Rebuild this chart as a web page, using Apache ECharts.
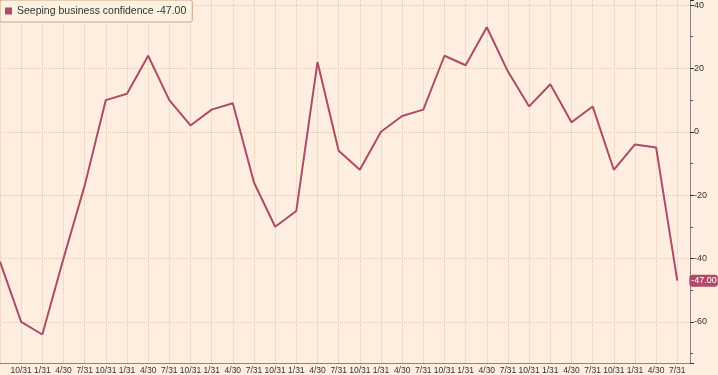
<!DOCTYPE html>
<html>
<head>
<meta charset="utf-8">
<script src="https://cdn.jsdelivr.net/npm/echarts@6/dist/echarts.min.js"></script>
<style>
  html, body { margin: 0; padding: 0; background: #fdeedf; }
  #chart { width: 718px; height: 375px; }
</style>
</head>
<body>
<div id="chart"></div>
<script>
// quarter-end labels, first point is the 7/31 just off the left edge
const xLabels = [
  '7/31', '10/31', '1/31', '4/30', '7/31', '10/31', '1/31', '4/30', '7/31',
  '10/31', '1/31', '4/30', '7/31', '10/31', '1/31', '4/30', '7/31',
  '10/31', '1/31', '4/30', '7/31', '10/31', '1/31', '4/30', '7/31',
  '10/31', '1/31', '4/30', '7/31', '10/31', '1/31', '4/30', '7/31'
];
const confidence = [
  -41, -60, -64, -40, -17, 10, 12, 24, 10,
  2, 7, 9, -16, -30, -25, 22, -6,
  -12, 0, 5, 7, 24, 21, 33, 19,
  8, 15, 3, 8, -12, -4, -5, -47
];
const seriesName = 'Seeping business confidence';
const lastValue = confidence[confidence.length - 1];

const FONT = 'Liberation Sans Narrow, Liberation Sans, sans-serif';
const LINE = '#ad4b68';
const GRID = '#dfcab6';

const chart = echarts.init(document.getElementById('chart'), null, { renderer: 'canvas' });

chart.setOption({
  backgroundColor: '#fdeedf',
  animation: false,
  grid: { left: 0, right: 28, top: 0, bottom: 12 },
  legend: {
    left: 0, top: 0,
    orient: 'horizontal',
    icon: 'rect',
    itemWidth: 7, itemHeight: 7,
    padding: [5, 6, 5, 5],
    backgroundColor: '#fdf1df',
    borderColor: '#c9a888',
    borderWidth: 1,
    borderRadius: 2,
    textStyle: { fontFamily: 'Liberation Sans, sans-serif', fontSize: 10.5, color: '#333', lineHeight: 12 },
    formatter: name => name + ' ' + lastValue.toFixed(2),
    data: [seriesName]
  },
  xAxis: {
    type: 'value',
    min: 0, max: 32.6, interval: 1,
    axisLine: { show: true, onZero: false, lineStyle: { color: '#8a8480' } },
    axisTick: { show: false },
    splitLine: { show: true, lineStyle: { color: GRID, type: 'dotted' } },
    axisLabel: {
      showMinLabel: false, showMaxLabel: false,
      margin: 3,
      fontFamily: FONT, fontSize: 8.5, color: '#333',
      formatter: v => xLabels[v] || ''
    }
  },
  yAxis: {
    type: 'value',
    position: 'right',
    min: -73, max: 41.6, splitNumber: 5,
    axisLine: { show: true, onZero: false, lineStyle: { color: '#8a8480' } },
    axisTick: { show: true, length: 4, lineStyle: { color: '#333' } },
    minorTick: { show: true, splitNumber: 2, length: 3, lineStyle: { color: '#555' } },
    splitLine: { show: true, showMaxLine: false, lineStyle: { color: GRID, type: 'dotted' } },
    axisLabel: {
      showMinLabel: false, showMaxLabel: false,
      margin: 4,
      fontFamily: FONT, fontSize: 9, color: '#333'
    }
  },
  series: [{
    name: seriesName,
    type: 'line',
    data: confidence.map((v, i) => [i, v]),
    showSymbol: false,
    color: LINE,
    lineStyle: { width: 2, color: LINE },
    endLabel: {
      show: true,
      offset: [4, 0],
      formatter: p => p.value[1].toFixed(2),
      backgroundColor: LINE,
      color: '#fff',
      fontFamily: FONT, fontSize: 9,
      padding: [2, 1, 1, 2],
      borderRadius: 3
    }
  }]
});
</script>
</body>
</html>
